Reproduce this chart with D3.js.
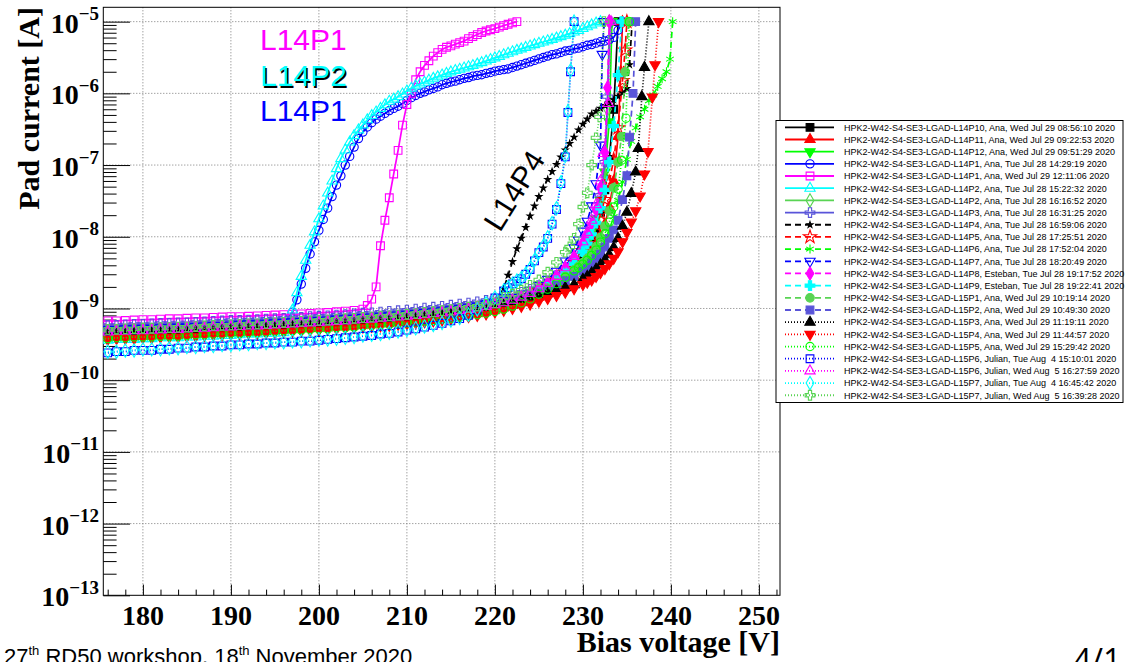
<!DOCTYPE html>
<html>
<head>
<meta charset="utf-8">
<title>Pad current vs bias voltage</title>
<style>
  body { margin: 0; background: #fff; }
  svg { display: block; }
  .serif { font-family: "Liberation Serif", "Times New Roman", serif; font-weight: bold; }
  .sans { font-family: "Liberation Sans", Arial, sans-serif; }
</style>
</head>
<body>
<svg id="svg" width="1126" height="662"></svg>
<script src="https://d3js.org/d3.v7.min.js"></script>
<script>
// ---- data (currents in nA) ----
const names = [
  "HPK2-W42-S4-SE3-LGAD-L14P10, Ana, Wed Jul 29 08:56:10 2020",
  "HPK2-W42-S4-SE3-LGAD-L14P11, Ana, Wed Jul 29 09:22:53 2020",
  "HPK2-W42-S4-SE3-LGAD-L14P12, Ana, Wed Jul 29 09:51:29 2020",
  "HPK2-W42-S4-SE3-LGAD-L14P1, Ana, Tue Jul 28 14:29:19 2020",
  "HPK2-W42-S4-SE3-LGAD-L14P1, Ana, Wed Jul 29 12:11:06 2020",
  "HPK2-W42-S4-SE3-LGAD-L14P2, Ana, Tue Jul 28 15:22:32 2020",
  "HPK2-W42-S4-SE3-LGAD-L14P2, Ana, Tue Jul 28 16:16:52 2020",
  "HPK2-W42-S4-SE3-LGAD-L14P3, Ana, Tue Jul 28 16:31:25 2020",
  "HPK2-W42-S4-SE3-LGAD-L14P4, Ana, Tue Jul 28 16:59:06 2020",
  "HPK2-W42-S4-SE3-LGAD-L14P5, Ana, Tue Jul 28 17:25:51 2020",
  "HPK2-W42-S4-SE3-LGAD-L14P6, Ana, Tue Jul 28 17:52:04 2020",
  "HPK2-W42-S4-SE3-LGAD-L14P7, Ana, Tue Jul 28 18:20:49 2020",
  "HPK2-W42-S4-SE3-LGAD-L14P8, Esteban, Tue Jul 28 19:17:52 2020",
  "HPK2-W42-S4-SE3-LGAD-L14P9, Esteban, Tue Jul 28 19:22:41 2020",
  "HPK2-W42-S4-SE3-LGAD-L15P1, Ana, Wed Jul 29 10:19:14 2020",
  "HPK2-W42-S4-SE3-LGAD-L15P2, Ana, Wed Jul 29 10:49:30 2020",
  "HPK2-W42-S4-SE3-LGAD-L15P3, Ana, Wed Jul 29 11:19:11 2020",
  "HPK2-W42-S4-SE3-LGAD-L15P4, Ana, Wed Jul 29 11:44:57 2020",
  "HPK2-W42-S4-SE3-LGAD-L15P5, Ana, Wed Jul 29 15:29:42 2020",
  "HPK2-W42-S4-SE3-LGAD-L15P6, Julian, Tue Aug  4 15:10:01 2020",
  "HPK2-W42-S4-SE3-LGAD-L15P6, Julian, Wed Aug  5 16:27:59 2020",
  "HPK2-W42-S4-SE3-LGAD-L15P7, Julian, Tue Aug  4 16:45:42 2020",
  "HPK2-W42-S4-SE3-LGAD-L15P7, Julian, Wed Aug  5 16:39:28 2020"
];

const lineColors = ["#000000", "#ff0000", "#00ff00", "#0000ff", "#ff00ff", "#00ffff", "#59d454", "#5954d9",
  "#000000", "#ff0000", "#00ff00", "#0000ff", "#ff00ff", "#00ffff", "#59d454", "#5954d9",
  "#000000", "#ff0000", "#00ff00", "#0000ff", "#ff00ff", "#00ffff", "#59d454"];
const lineStyles = ["solid", "solid", "solid", "solid", "solid", "solid", "solid", "solid",
  "dash", "dash", "dash", "dash", "dash", "dash", "dash", "dash",
  "dot", "dot", "dot", "dot", "dot", "dot", "dot"];
const markerStyles = ["squareF", "triF", "triDownF", "circleO", "squareO", "triO", "diamondO", "crossO",
  "starF", "starO", "asterisk", "triDownO", "diamondF", "crossF", "circleF", "squareF",
  "triF", "triDownF", "circleO", "squareO", "triO", "diamondO", "crossO"];

// sweeps: grid = [start V, step V, currents], pts = [V, current]
const sweeps = [
  { grid: [[175, 1, [.44,.44,.45,.45,.46,.46,.47,.47,.48,.48,.48,.49,.50,.51,.51,.52,.52,.53,.54,.55,.55,.56,.57,.58,.59,.60,.61,.62,.63,.64,.66,.67,.68,.70,.71,.73,.75,.77,.79,.82,.84,.88,.91,.95,1.0,1.06]]],
    pts: [[221,1.13],[222,1.22],[223,1.33],[224,1.48],[225,1.68],[226,1.95],[227,2.35],[228,2.95],[229,3.9],[230,5.6],[230.5,7.0],[231,9.2],[231.5,13],[232,22],[232.5,45],[233,120],[233.5,600],[234,10000]] },
  { grid: [[175, 1, [.40,.40,.41,.41,.42,.42,.42,.43,.43,.44,.44,.45,.45,.46,.46,.47,.48,.48,.49,.50,.50,.51,.52,.53,.54,.54,.55,.56,.57,.58,.60,.61,.62,.63,.65,.66,.68,.70,.72,.74,.77,.80,.83,.86,.91,.96]]],
    pts: [[221,1.04],[222,1.11],[223,1.2],[224,1.31],[225,1.45],[226,1.63],[227,1.88],[228,2.25],[229,2.8],[230,3.7],[230.5,4.5],[231,5.6],[231.5,7.3],[232,10.2],[232.5,15],[233,26],[233.5,60],[234,250],[234.3,2000],[234.5,10000]] },
  { grid: [[175, 1, [.41,.41,.42,.42,.43,.43,.43,.44,.44,.45,.45,.46,.46,.47,.48,.48,.49,.50,.50,.51,.52,.52,.53,.54,.55,.56,.57,.58,.59,.60,.61,.62,.64,.65,.66,.68,.70,.72,.74,.76,.79,.82,.85,.89,.93,.98]]],
    pts: [[221,1.06],[222,1.16],[223,1.28],[224,1.44],[225,1.66],[226,1.96],[227,2.4],[228,3.1],[229,4.3],[230,6.5],[230.5,8.5],[231,12],[231.5,18],[232,32],[232.5,80],[233,400],[233.3,10000]] },
  { grid: [[175, 1, [.48,.48,.49,.49,.50,.50,.51,.51,.52,.52,.53,.54,.54,.55,.56,.57,.57,.58,.59,.60,.60,.61]],
           [196.5, 0.5, [.70,.89,1.32,2.19,3.63,5.75,8.5,12.3,17.4,25.1,36.3,52.5,70.8,100,132,178,234,288,339,389,437,479,525,575,617,661,724,794,871,933,1000,1050,1120,1170,1230,1320,1380,1440,1480,1550,1620,1660,1740,1780,1820,1900,1950,2040,2090,2140,2190,2290,2400,2510,2630,2750,2880,3020,3160,3310,3470,3550,3720,3890,3980,4170,4270,4470,4680,4790,5010,5250,5370,5620,6030,7590,10000]]] },
  { grid: [[175, 1, [.66,.67,.67,.68,.69,.70,.70,.71,.72,.72,.73,.74,.74,.75,.76,.77,.77,.78,.79,.80,.81,.82,.83,.84,.85,.87,.88,.90,.92,.94,.98]],
           [205.5, 0.5, [1.1,1.35,2.0,7.5,17,35,75,160,360,700,1000,1550,2000,2450,2850,3300,3700,4100,4400,4600,4850,5100,5350,5800,6200,6600,7050,7400,7700,8000,8400,8800,9200,9600,10000]]] },
  { grid: [[175, 1, [.36,.36,.37,.37,.37,.38,.38,.39,.39,.39,.40,.40,.41,.41,.42,.42,.43,.44,.44,.45,.45,.46]],
           [196.5, 0.5, [.62,.95,1.66,2.8,4.7,7.6,11.7,17.8,26.9,40.7,60,89,123,162,209,257,309,363,427,490,550,617,692,776,
             830,900,980,1080,1180,1270,1350,1430,1530,1620,1700,1800,1900,1990,2080,2170,2260,2350,2450,2560,2680,2820,2970,3120,3280,3450,3620,3800,3980,4170,4370,4570,4780,4990,5200,5420,5650,5900,6180,6480,6800,7150,7550,8000,8500,9000,9550,10000]]] },
  { grid: [[175, 1, [.42,.42,.43,.43,.44,.44,.45,.45,.45,.46,.46,.47,.47,.48,.49,.50,.50,.51,.51,.52,.53,.54,.55,.55,.56,.57,.58,.59,.60,.61,.63,.64,.65,.66,.68,.70,.71,.74,.76,.78,.81,.84,.87,.91,.95,1.01]]],
    pts: [[221,1.1],[222,1.2],[223,1.33],[224,1.5],[225,1.72],[226,2.02],[227,2.45],[228,3.1],[229,4.2],[230,6.3],[230.5,8.2],[231,11.5],[231.5,17],[232,30],[232.5,70],[232.8,600],[233,10000]] },
  { grid: [[175, 1, [.57,.58,.58,.59,.60,.60,.61,.62,.62,.63,.63,.64,.65,.66,.67,.68,.68,.69,.70,.71,.72,.73,.74,.75,.77,.78,.79,.81,.82,.84,.86,.87,.89,.91,.93,.95,.98,1.01,1.04,1.07,1.11,1.15,1.19,1.24,1.30,1.37]]],
    pts: [[221,1.45],[222,1.55],[223,1.68],[224,1.85],[225,2.08],[226,2.4],[227,2.9],[228,3.7],[229,5.1],[230,7.8],[230.5,10],[231,14],[231.5,21],[232,38],[232.5,110],[232.8,900],[233.1,10000]] },
  { grid: [[175, 1, [.45,.45,.46,.46,.47,.47,.48,.48,.49,.49,.50,.50,.51,.52,.52,.53,.54,.54,.55,.56,.57,.58,.59,.59,.60,.61,.62,.63,.64,.66,.67,.68,.70,.71,.73,.75,.77,.79,.81,.84,.86,.90,.93,.97,1.02,1.08]],
           [221, 0.5, [1.9,2.9,4.5,6.8,9.5,13.5,19.5,26.9,36.3,47.9,63.1,81.3,102,129,162,200,245,309,372,437,513,562,617,676,741,813,912,1020,1170]]],
    pts: [[235.3,2510],[235.6,10000]] },
  { grid: [[175, 1, [.43,.43,.44,.44,.45,.45,.46,.46,.46,.47,.47,.48,.49,.49,.50,.51,.51,.52,.52,.53,.54,.55,.56,.57,.58,.58,.59,.61,.61,.63,.64,.65,.67,.68,.70,.71,.73,.75,.77,.80,.83,.86,.89,.93,.98,1.03]]],
    pts: [[221,1.12],[222,1.22],[223,1.35],[224,1.52],[225,1.75],[226,2.05],[227,2.5],[228,3.2],[229,4.4],[230,6.4],[230.5,8],[231,10.5],[231.5,14.5],[232,21],[232.5,33],[233,58],[233.5,120],[234,330],[234.5,1500],[234.8,4000],[235,10000]] },
  { grid: [[175, 1, [.38,.38,.39,.39,.40,.40,.40,.41,.41,.41,.42,.43,.43,.44,.44,.45,.45,.46,.46,.47,.48,.49,.49,.50,.51,.52,.52,.54,.54,.55,.57,.58,.59,.60,.62,.63,.65,.67,.68,.71,.73,.76,.79,.82,.86,.91]]],
    pts: [[221,.98],[222,1.07],[223,1.17],[224,1.29],[225,1.42],[226,1.58],[227,1.76],[228,1.98],[229,2.35],[230,2.95],[231,4.3],[231.5,5.3],[232,6.8],[232.5,8.9],[233,12.6],[233.5,19],[234,32],[234.5,58],[235,120],[235.5,214],[236,330],[236.5,470],[237,600],[237.5,790],[238,950],[238.5,1250],[239,1600],[239.5,2000],[239.9,3000],[240.2,10000]] },
  { grid: [[175, 1, [.50,.51,.51,.52,.52,.53,.53,.54,.54,.55,.55,.56,.57,.58,.58,.59,.60,.61,.61,.62,.63,.64,.65,.66,.67,.68,.69,.71,.72,.73,.75,.76,.78,.79,.81,.83,.85,.88,.90,.93,.96,1.00,1.04,1.08,1.14,1.20]]],
    pts: [[221,1.3],[222,1.42],[223,1.58],[224,1.8],[225,2.1],[226,2.55],[227,3.3],[228,4.6],[229,7],[229.5,9],[230,12],[230.5,16.5],[231,27],[231.5,55],[232,190],[232.2,3500],[232.4,10000]] },
  { grid: [[175, 1, [.47,.47,.48,.48,.49,.49,.50,.50,.51,.51,.52,.53,.53,.54,.55,.55,.56,.57,.57,.58,.59,.60,.61,.62,.63,.64,.65,.66,.67,.69,.70,.71,.73,.74,.76,.78,.80,.82,.85,.87,.90,.94,.97,1.02,1.07,1.13]]],
    pts: [[221,1.2],[222,1.3],[223,1.44],[224,1.62],[225,1.88],[226,2.25],[227,2.8],[228,3.7],[229,5.2],[230,8],[230.5,10.5],[231,15],[231.5,24],[232,48],[232.5,150],[232.8,1200],[233,10000]] },
  { grid: [[175, 1, [.39,.39,.40,.40,.41,.41,.41,.42,.42,.43,.43,.44,.44,.45,.45,.46,.46,.47,.48,.48,.49,.50,.51,.51,.52,.53,.54,.55,.56,.57,.58,.59,.60,.62,.63,.65,.66,.68,.70,.73,.75,.78,.81,.84,.89,.94]]],
    pts: [[221,1.02],[222,1.12],[223,1.25],[224,1.42],[225,1.65],[226,1.97],[227,2.42],[228,3.1],[229,4.2],[230,6.2],[230.5,8],[231,10.8],[231.5,15.5],[232,25],[232.5,45],[233,110],[233.5,350],[234,1800],[234.4,10000]] },
  { grid: [[175, 1, [.41,.41,.42,.42,.43,.43,.43,.44,.44,.45,.45,.46,.46,.47,.48,.48,.49,.50,.50,.51,.52,.52,.53,.54,.55,.56,.57,.58,.59,.60,.61,.62,.64,.65,.66,.68,.70,.72,.74,.76,.79,.82,.85,.89,.93,.98]]],
    pts: [[221,1.08],[222,1.17],[223,1.3],[224,1.45],[225,1.65],[226,1.92],[227,2.3],[228,2.8],[229,3.45],[229.5,3.85],[230,4.35],[230.5,4.95],[231,5.9],[231.5,7.3],[232,9.8],[232.5,14],[233,23],[233.5,48],[234,110],[234.4,250],[234.8,2000],[235.2,10000]] },
  { grid: [[175, 1, [.45,.45,.46,.46,.47,.47,.48,.48,.49,.49,.50,.50,.51,.52,.52,.53,.54,.54,.55,.56,.57,.58,.59,.59,.60,.61,.62,.63,.64,.66,.67,.68,.70,.71,.73,.75,.77,.79,.81,.84,.86,.90,.93,.97,1.02,1.08]]],
    pts: [[221,1.18],[222,1.27],[223,1.38],[224,1.5],[225,1.65],[226,1.85],[227,2.1],[228,2.45],[229,2.8],[230,3.3],[230.5,3.65],[231,4.3],[231.5,5.0],[232,5.7],[232.5,7.2],[233,9.5],[233.5,12.5],[234,17],[234.5,33],[235,71],[235.3,245],[235.7,1000],[236,10000]] },
  { grid: [[175, 1, [.42,.42,.43,.43,.44,.44,.45,.45,.45,.46,.46,.47,.47,.48,.49,.50,.50,.51,.51,.52,.53,.54,.55,.55,.56,.57,.58,.59,.60,.61,.63,.64,.65,.66,.68,.70,.71,.74,.76,.78,.81,.84,.87,.91,.95,1.01]]],
    pts: [[221,1.1],[222,1.18],[223,1.27],[224,1.38],[225,1.5],[226,1.63],[227,1.78],[228,1.95],[229,2.15],[230,2.55],[230.5,2.8],[231,3.15],[231.5,3.55],[232,4.05],[232.5,4.7],[233,5.6],[233.5,7.1],[234,9.5],[234.5,14],[235,22],[235.5,40],[236,80],[236.3,170],[236.7,900],[237,2300],[237.5,10000]] },
  { grid: [[175, 1, [.37,.37,.38,.38,.38,.39,.39,.40,.40,.40,.41,.41,.42,.43,.43,.44,.44,.45,.45,.46,.47,.47,.48,.49,.50,.50,.51,.52,.53,.54,.55,.56,.57,.58,.60,.61,.63,.65,.67,.69,.71,.74,.77,.80,.84,.89]]],
    pts: [[221,.94],[222,1.0],[223,1.07],[224,1.15],[225,1.26],[226,1.38],[227,1.52],[228,1.68],[229,1.88],[230,2.15],[230.5,2.32],[231,2.5],[231.5,2.8],[232,3.15],[232.5,3.6],[233,4.2],[233.5,5.0],[234,6.2],[234.5,8.5],[235,11.5],[235.5,16],[236,23],[236.5,37],[237,75],[237.4,155],[237.9,890],[238.2,2500],[238.6,10000]] },
  { grid: [[175, 1, [.38,.38,.39,.39,.40,.40,.40,.41,.41,.41,.42,.43,.43,.44,.44,.45,.45,.46,.46,.47,.48,.49,.49,.50,.51,.52,.52,.54,.54,.55,.57,.58,.59,.60,.62,.63,.65,.67,.68,.71,.73,.76,.79,.82,.86,.91]]],
    pts: [[221,.98],[222,1.08],[223,1.2],[224,1.36],[225,1.58],[226,1.86],[227,2.22],[228,2.72],[229,3.35],[229.5,3.7],[230,4.15],[230.5,4.7],[231,5.5],[231.5,6.5],[232,8.4],[232.5,11],[233,16],[233.5,26],[234,46],[234.4,117],[234.9,450],[235.3,10000]] },
  { grid: [[175, 1, [.24,.24,.25,.25,.26,.26,.26,.27,.27,.28,.28,.29,.29,.30,.30,.31,.31,.32,.32,.33,.33,.34,.34,.35,.35,.36,.37,.38,.39,.40,.41,.42,.44,.45,.47,.50,.52,.55,.58,.62,.67,.72,.80,.95,1.15,1.40]]],
    pts: [[221,1.75],[221.5,1.95],[222,2.2],[222.5,2.4],[223,2.6],[223.5,3.0],[224,3.5],[224.5,4.6],[225,6.0],[225.5,7.2],[226,9.5],[226.5,15],[227,24],[227.5,55],[228,130],[228.3,540],[228.6,2000],[229,10000]] },
  { grid: [[175, 1, [.47,.47,.48,.48,.49,.49,.50,.50,.51,.51,.52,.53,.53,.54,.55,.55,.56,.57,.57,.58,.59,.60,.61,.62,.63,.64,.65,.66,.67,.69,.70,.71,.73,.74,.76,.78,.80,.82,.85,.87,.90,.94,.97,1.02,1.07,1.13]]],
    pts: [[221,1.2],[222,1.3],[223,1.44],[224,1.62],[225,1.88],[226,2.25],[227,2.8],[228,3.7],[229,5.3],[230,8.5],[230.5,11.5],[231,17],[231.5,28],[232,60],[232.3,145],[232.9,720],[233.2,10000]] },
  { grid: [[175, 1, [.25,.25,.25,.26,.26,.27,.27,.27,.28,.28,.29,.29,.30,.30,.31,.31,.32,.32,.33,.33,.34,.34,.35,.35,.36,.37,.37,.38,.39,.40,.42,.43,.44,.46,.48,.50,.53,.56,.59,.63,.68,.74,.82,.97,1.18,1.42]]],
    pts: [[221,1.78],[221.5,1.98],[222,2.2],[222.5,2.45],[223,2.65],[223.5,3.05],[224,3.6],[224.5,4.7],[225,6.1],[225.5,7.4],[226,9.8],[226.5,15.5],[227,25],[227.5,57],[228,135],[228.3,560],[228.6,2100],[229,10000]] },
  { grid: [[175, 1, [.50,.51,.51,.52,.52,.53,.53,.54,.54,.55,.55,.56,.57,.58,.58,.59,.60,.61,.61,.62,.63,.64,.65,.66,.67,.68,.69,.71,.72,.73,.75,.76,.78,.79,.81,.83,.85,.88,.90,.93,.96,1.00,1.04,1.08,1.14,1.20]]],
    pts: [[221,1.42],[222,1.58],[223,1.8],[224,2.1],[225,2.5],[226,3.2],[227,4.4],[228,6.1],[228.5,7.2],[229,9.5],[229.5,15],[230,26],[230.5,41],[231,100],[231.5,240],[231.9,470],[232.4,10000]] }
];

const xMajor = [180, 190, 200, 210, 220, 230, 240, 250];
const yDecades = [-13, -12, -11, -10, -9, -8, -7, -6, -5];

// ---- layout ----
const frame = { left: 103.3, right: 780, top: 7.3, bottom: 595.3 };
const svg = d3.select("#svg");

const xScale = d3.scaleLinear().domain([175.5, 252.4]).range([frame.left, frame.right]);
const yScale = d3.scaleLog().domain([1e-13, Math.pow(10, -4.8)]).range([frame.bottom, frame.top]);

function expand(s) {
  let out = [];
  (s.grid || []).forEach(([v0, dv, vals]) => vals.forEach((c, i) => out.push([v0 + i * dv, c])));
  (s.pts || []).forEach(p => out.push(p));
  return out;
}

const dashArr = { solid: null, dash: "6,4", dot: "1,2" };

function markerPath(type) {
  switch (type) {
    case "squareF": case "squareO": return d3.symbol(d3.symbolSquare, 60)();
    case "triF": case "triO": case "triDownF": case "triDownO": return d3.symbol(d3.symbolTriangle, 46)();
    case "circleF": return d3.symbol(d3.symbolCircle, 58)();
    case "circleO": return d3.symbol(d3.symbolCircle, 54)();
    case "diamondF": case "diamondO": return d3.symbol(d3.symbolDiamond, 52)();
    case "crossF": case "crossO": return d3.symbol(d3.symbolCross, 52)();
    case "starF": return d3.symbol(d3.symbolStar, 11)();
    case "starO": return d3.symbol(d3.symbolStar, 54)();
    case "asterisk": return d3.symbol(d3.symbolAsterisk, 56)();
  }
}
function isFilled(type) { return /F$/.test(type); }
function isDown(type) { return /Down/.test(type); }

function drawMarker(g, type, color, px, py) {
  g.append("path")
    .attr("d", markerPath(type))
    .attr("transform", `translate(${px},${py})` + (isDown(type) ? " rotate(180)" : ""))
    .attr("fill", isFilled(type) ? color : "none")
    .attr("stroke", color)
    .attr("stroke-width", 1.1);
}

// grid
const grid = svg.append("g").attr("stroke", "#7a7a7a").attr("stroke-width", 1).attr("stroke-dasharray", "1,2");
grid.selectAll("line.gx").data(xMajor).join("line")
  .attr("x1", d => xScale(d)).attr("x2", d => xScale(d))
  .attr("y1", frame.top).attr("y2", frame.bottom);
grid.selectAll("line.gy").data(yDecades.slice(1)).join("line")
  .attr("x1", frame.left).attr("x2", frame.right)
  .attr("y1", d => yScale(Math.pow(10, d))).attr("y2", d => yScale(Math.pow(10, d)));

// axes (ticks only; labels drawn below)
const xMinor = d3.range(176, 253, 2).filter(v => v % 10 !== 0);
svg.append("g").attr("transform", `translate(0,${frame.bottom})`)
  .call(d3.axisBottom(xScale).tickValues(xMinor).tickSize(-5.7).tickFormat(""));
svg.append("g").attr("transform", `translate(0,${frame.bottom})`)
  .call(d3.axisBottom(xScale).tickValues(xMajor).tickSize(-10.7).tickFormat(""));

let yMinor = [];
yDecades.forEach(k => { for (let m = 2; m <= 9; m++) { const v = m * Math.pow(10, k); if (v < Math.pow(10, -4.8)) yMinor.push(v); } });
svg.append("g").attr("transform", `translate(${frame.left},0)`)
  .call(d3.axisLeft(yScale).tickValues(yMinor).tickSize(-13.3).tickFormat(""));
svg.append("g").attr("transform", `translate(${frame.left},0)`)
  .call(d3.axisLeft(yScale).tickValues(yDecades.map(k => Math.pow(10, k))).tickSize(-26.7).tickFormat(""));
svg.selectAll(".domain").remove();
svg.selectAll(".tick line").attr("stroke", "#000");

// x tick labels
xMajor.forEach(v => {
  svg.append("text").attr("class", "serif").attr("x", xScale(v)).attr("y", 625)
    .attr("text-anchor", "middle").attr("font-size", 28).attr("fill", "#000").text(v);
});

// y tick labels 10^k
yDecades.forEach(k => {
  const ty = yScale(Math.pow(10, k));
  const t = svg.append("text").attr("class", "serif").attr("x", 99).attr("y", ty + 11)
    .attr("text-anchor", "end").attr("font-size", 28);
  t.append("tspan").text("10");
  t.append("tspan").attr("font-size", 19).attr("dy", -12.5).text("\u2212" + (-k));
});

// frame
svg.append("rect").attr("x", frame.left).attr("y", frame.top)
  .attr("width", frame.right - frame.left).attr("height", frame.bottom - frame.top)
  .attr("fill", "none").attr("stroke", "#000").attr("stroke-width", 1);

// axis titles
svg.append("text").attr("class", "serif").attr("font-size", 30)
  .attr("text-anchor", "end").attr("x", frame.right).attr("y", 652)
  .text("Bias voltage [V]");
svg.append("text").attr("class", "serif").attr("font-size", 30)
  .attr("text-anchor", "end").attr("transform", "translate(39,7) rotate(-90)")
  .text("Pad current [A]");

// data
svg.append("defs").append("clipPath").attr("id", "plotclip")
  .append("rect").attr("x", frame.left).attr("y", frame.top - 6)
  .attr("width", frame.right - frame.left).attr("height", frame.bottom - frame.top + 6);
const plot = svg.append("g").attr("clip-path", "url(#plotclip)");

const line = d3.line().x(d => xScale(d[0])).y(d => yScale(d[1] * 1e-9));

sweeps.forEach((s, i) => {
  const pts = expand(s);
  const g = plot.append("g");
  g.append("path").datum(pts).attr("d", line)
    .attr("fill", "none").attr("stroke", lineColors[i]).attr("stroke-width", 1.7)
    .attr("stroke-dasharray", dashArr[lineStyles[i]]);
  pts.forEach(p => drawMarker(g, markerStyles[i], lineColors[i], xScale(p[0]), yScale(p[1] * 1e-9)));
});

// annotations
const ann = svg.append("g").attr("class", "sans").attr("font-size", 30);
ann.append("text").attr("x", 260).attr("y", 50).attr("fill", "#ff00ff").text("L14P1");
ann.append("text").attr("x", 261.5).attr("y", 87.5).attr("fill", "#000").text("L14P2");
ann.append("text").attr("x", 260).attr("y", 85.5).attr("fill", "#00ffff").text("L14P2");
ann.append("text").attr("x", 260).attr("y", 121).attr("fill", "#0000ff").text("L14P1");
ann.append("text").attr("transform", "translate(500,233) rotate(-58)").attr("fill", "#000").text("L14P4");

// legend
const legend = svg.append("g");
legend.append("rect").attr("x", 776).attr("y", 120.5).attr("width", 347).attr("height", 282)
  .attr("fill", "#fff").attr("stroke", "#000").attr("stroke-width", 1);
names.forEach((n, i) => {
  const ly = 127.3 + i * 12.18;
  legend.append("line").attr("x1", 785).attr("x2", 834).attr("y1", ly).attr("y2", ly)
    .attr("stroke", lineColors[i]).attr("stroke-width", 1.8)
    .attr("stroke-dasharray", dashArr[lineStyles[i]]);
  drawMarker(legend, markerStyles[i], lineColors[i], 810, ly);
  legend.append("text").attr("class", "sans").attr("x", 844).attr("y", ly + 3.3)
    .attr("font-size", 9).attr("fill", "#000").style("white-space", "pre").text(n);
});

// footer (cut by the page edge, as on the slide)
const foot = svg.append("text").attr("class", "sans").attr("x", 4).attr("y", 664).attr("font-size", 22).attr("fill", "#000");
foot.append("tspan").text("27");
foot.append("tspan").attr("font-size", 13).attr("dy", -9).text("th");
foot.append("tspan").attr("dy", 9).text(" RD50 workshop, 18");
foot.append("tspan").attr("font-size", 13).attr("dy", -9).text("th");
foot.append("tspan").attr("dy", 9).text(" November 2020");
svg.append("text").attr("x", 1073).attr("y", 672).attr("font-size", 32)
  .attr("font-family", "'Open Sans', sans-serif").attr("fill", "#000").text("4/1");
</script>
</body>
</html>
